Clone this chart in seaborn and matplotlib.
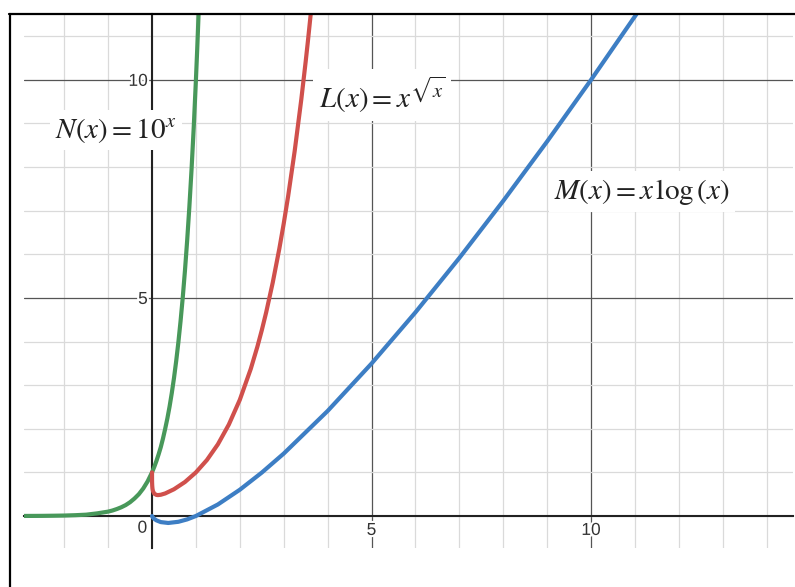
import matplotlib
matplotlib.use('Agg')

import pandas as pd
import seaborn as sns
import matplotlib.pyplot as plt
import matplotlib.patheffects as pe
from matplotlib.lines import Line2D

# points
n_x = [-2.92, -2.5, -2.25, -2.0, -1.75, -1.5, -1.25, -1.0, -0.9, -0.8, -0.7, -0.6, -0.5, -0.4, -0.3,
       -0.2, -0.1, 0.0, 0.05, 0.1, 0.15, 0.2, 0.25, 0.3, 0.35, 0.4, 0.45, 0.5, 0.55, 0.6, 0.65, 0.7,
       0.75, 0.8, 0.85, 0.9, 0.95, 1.0, 1.03, 1.07]
n_y = [0.001, 0.003, 0.006, 0.01, 0.018, 0.03, 0.06, 0.10, 0.126, 0.16, 0.20, 0.25, 0.316, 0.40, 0.50,
       0.63, 0.794, 1.00, 1.122, 1.26, 1.413, 1.58, 1.778, 2.00, 2.239, 2.51, 2.818, 3.16, 3.548, 3.98,
       4.467, 5.01, 5.623, 6.31, 7.079, 7.94, 8.91, 10.0, 10.72, 11.75]

l_x = [0.0, 0.001, 0.002, 0.005, 0.01, 0.02, 0.05, 0.1, 0.135, 0.2, 0.3, 0.5, 0.75, 1.0, 1.25, 1.5,
       1.75, 2.0, 2.25, 2.4, 2.5, 2.6, 2.75, 2.9, 3.0, 3.1, 3.25, 3.4, 3.5, 3.55, 3.62]
l_y = [1.0, 0.80, 0.757, 0.69, 0.631, 0.575, 0.512, 0.483, 0.479, 0.487, 0.517, 0.613, 0.779, 1.0,
       1.283, 1.643, 2.097, 2.665, 3.375, 3.882, 4.258, 4.668, 5.353, 6.13, 6.705, 7.33, 8.372, 9.55,
       10.42, 10.88, 11.56]

m_x = [0.0, 0.005, 0.02, 0.05, 0.1, 0.2, 0.37, 0.6, 0.8, 1.0, 1.5, 2.0, 2.5, 3.0, 4.0, 5.0, 6.0,
       7.0, 8.0, 9.0, 10.0, 11.05]
m_y = [0.0, -0.012, -0.034, -0.065, -0.10, -0.140, -0.160, -0.133, -0.078, 0.0, 0.264, 0.602, 0.995,
       1.431, 2.408, 3.495, 4.669, 5.916, 7.225, 8.588, 10.0, 11.53]

major_ticks = [5, 10]
labels = {
    'N': (r'$N\left(x\right) = 10^x$', -0.82, 8.85),
    'L': (r'$L\left(x\right) = x^{\sqrt{x}}$', 5.24, 9.66),
    'M': (r'$M\left(x\right) = x\,\log\left(x\right)$', 11.16, 7.43),
}
colors = {'N': '#48985a', 'L': '#d0504c', 'M': '#3d7ec4'}

sns.set_style("white")
plt.rcParams['mathtext.fontset'] = 'stix'
plt.rcParams['font.family'] = ['Liberation Sans', 'DejaVu Sans']

fig = plt.figure(figsize=(7.95, 5.87), dpi=100)
ax = fig.add_axes([24 / 795, 1 - 548 / 587, 769 / 795, 534 / 587])

for key, xs, ys in [('N', n_x, n_y), ('L', l_x, l_y), ('M', m_x, m_y)]:
    df = pd.DataFrame({'x': xs, 'y': ys})
    sns.lineplot(data=df, x='x', y='y', sort=False, estimator=None, color=colors[key],
                 linewidth=3, ax=ax, zorder=4, solid_capstyle='round', solid_joinstyle='round')

ax.set_xlim(-2.916, 14.6)
ax.set_ylim(-0.734, 11.51)
ax.set_xlabel('')
ax.set_ylabel('')

# grid: light every 1, dark every 5
ax.set_xticks(range(-2, 15), minor=True)
ax.set_yticks(range(0, 12), minor=True)
ax.set_xticks(major_ticks)
ax.set_yticks(major_ticks)
ax.grid(which='minor', color='#dadada', linewidth=0.9, zorder=0)
ax.grid(which='major', color='#555555', linewidth=0.9, zorder=1)
ax.set_axisbelow(True)

for side in ['top', 'right']:
    ax.spines[side].set_visible(False)
ax.spines['left'].set_position(('data', 0))
ax.spines['bottom'].set_position(('data', 0))
for side in ['left', 'bottom']:
    ax.spines[side].set_color('#222222')
    ax.spines[side].set_linewidth(1.5)
    ax.spines[side].set_zorder(2)

ax.tick_params(which='both', length=0, labelsize=12.5, labelcolor='#333333')
ax.tick_params(axis='x', pad=5)
ax.tick_params(axis='y', pad=3)
halo = [pe.withStroke(linewidth=3, foreground='white')]
for t in ax.get_xticklabels() + ax.get_yticklabels():
    t.set_path_effects(halo)
ax.text(-0.22, -0.28, '0', ha='center', va='center', fontsize=12.5, color='#333333',
        path_effects=halo, zorder=3)

for key, (txt, tx, ty) in labels.items():
    ax.text(tx, ty, txt, ha='center', va='center', fontsize=21, color='#222222', zorder=5,
            bbox=dict(facecolor='white', edgecolor='none', pad=4))

# outer frame (top and left)
fig.add_artist(Line2D([9 / 795, 1], [1 - 14 / 587, 1 - 14 / 587], transform=fig.transFigure,
                      color='black', linewidth=1.6))
fig.add_artist(Line2D([10 / 795, 10 / 795], [0, 1 - 14 / 587], transform=fig.transFigure,
                      color='black', linewidth=1.6))

fig.savefig('out.png', dpi=100)
plt.close(fig)
